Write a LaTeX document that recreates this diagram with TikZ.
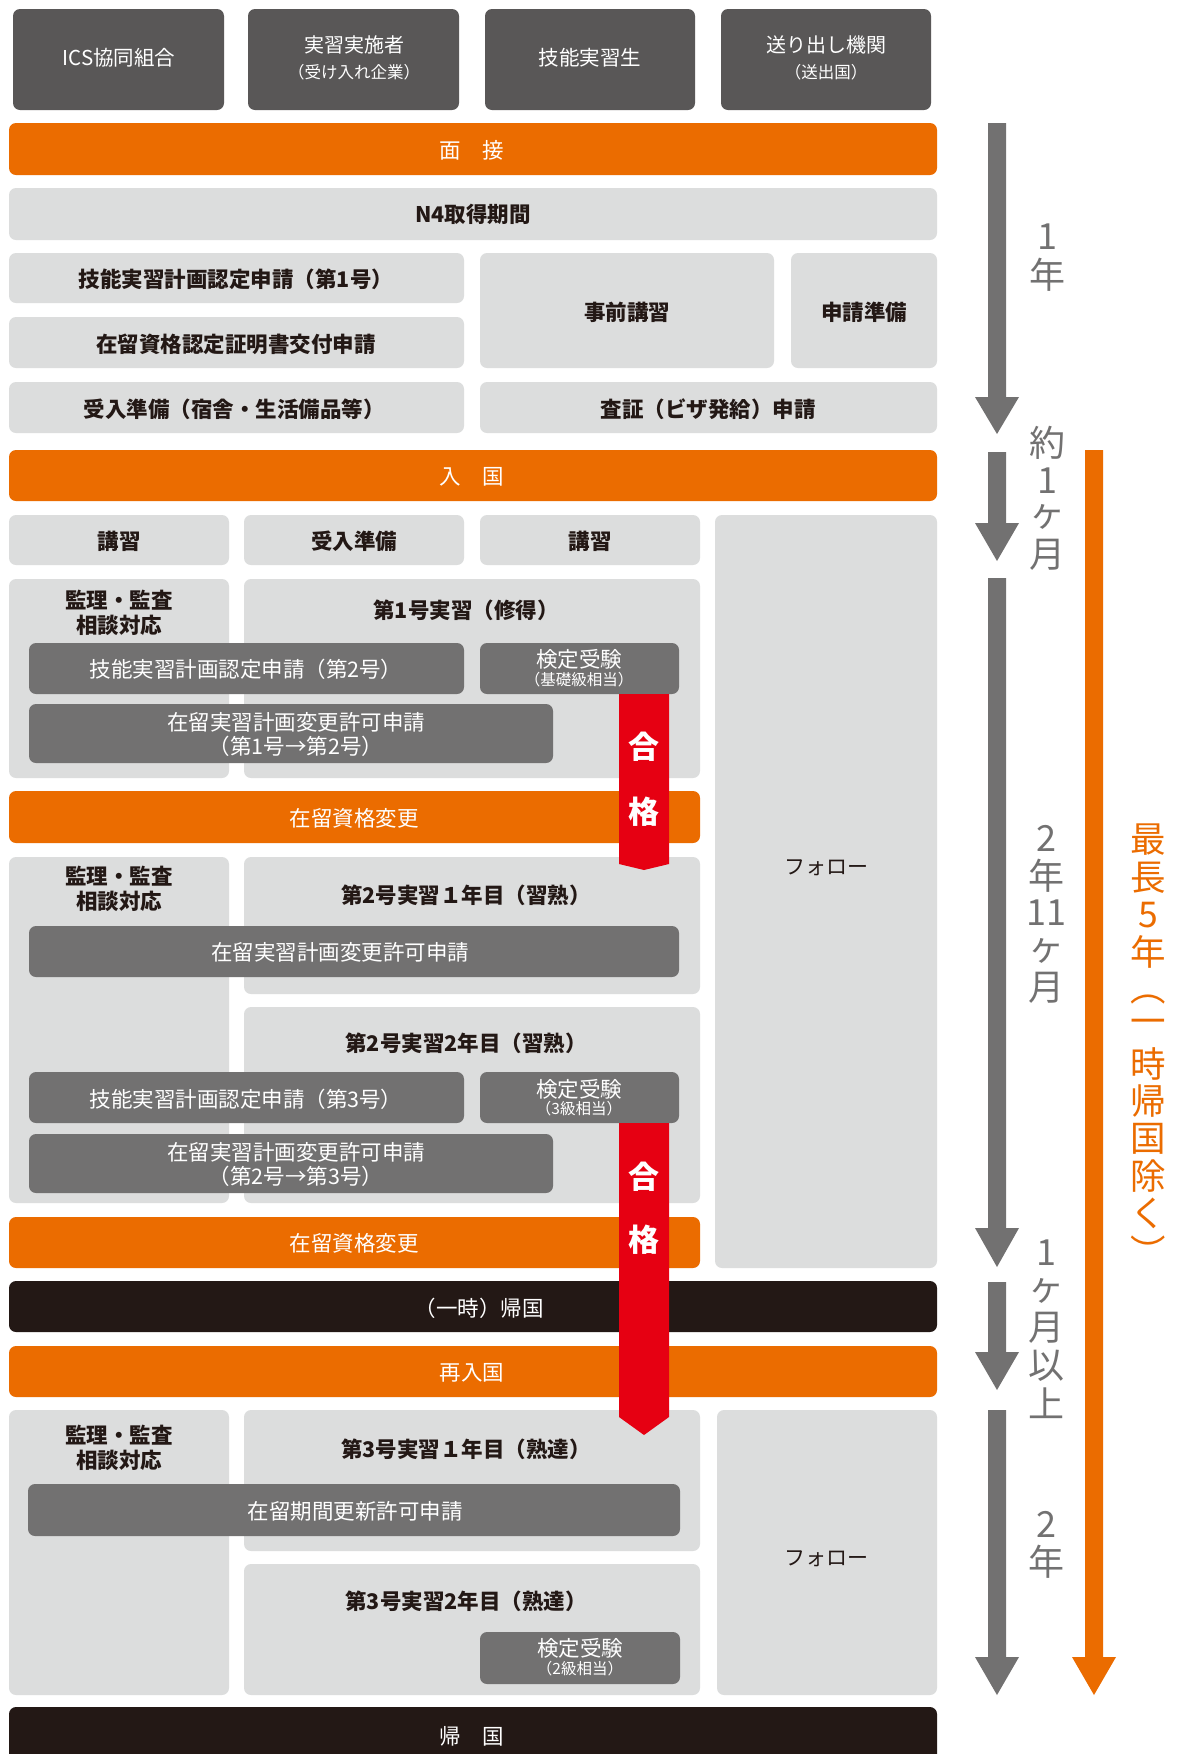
\documentclass[tikz,border=0pt]{standalone}
\usepackage{fontspec}
\setmainfont{Noto Sans CJK JP}
\definecolor{lgray}{HTML}{DCDDDD}
\definecolor{myorange}{HTML}{EB6C00}
\definecolor{mgray}{HTML}{727171}
\definecolor{dgray}{HTML}{595757}
\definecolor{kblack}{HTML}{231815}
\definecolor{myred}{HTML}{E60012}
\definecolor{tdark}{HTML}{231815}
\newcommand\bx[6]{\node[#2, anchor=north west, minimum width={(#5-#3)*1pt}, minimum height={(#6-#4)*1pt}] (#1) at (#3,#4) {};}
\newcommand\garrow[4]{\fill[mgray] (988,#2) -- (1006,#2) -- (1006,#3) -- (1019,#3) -- (997,#4) -- (975,#3) -- (988,#3) -- cycle;}
\begin{document}
\begin{tikzpicture}[x=1pt,y=-1pt,
  boxbase/.style={inner sep=0pt, outer sep=0pt, draw=none, rounded corners=7pt},
  lbox/.style={boxbase, fill=lgray},
  obar/.style={boxbase, fill=myorange},
  gbox/.style={boxbase, fill=mgray},
  dbox/.style={boxbase, fill=dgray},
  kbar/.style={boxbase, fill=kblack},
  dtxt/.style={text=tdark, font=\fontsize{21.5}{25}\selectfont\bfseries, inner sep=0pt, align=center},
  wtxt/.style={text=white, font=\fontsize{21.5}{24}\selectfont, inner sep=0pt, align=center},
  wsmall/.style={text=white, font=\fontsize{15.5}{18}\selectfont, inner sep=0pt},
  ftxt/.style={text=tdark, font=\fontsize{21}{24}\selectfont, inner sep=0pt},
  durtxt/.style={text=mgray, font=\fontsize{36}{40}\selectfont, inner sep=0pt},
  otxt/.style={text=myorange, font=\fontsize{35.5}{40}\selectfont, inner sep=0pt},
  passtxt/.style={text=white, font=\fontsize{31}{34}\selectfont\bfseries, inner sep=0pt}
]
\useasboundingbox (0,0) rectangle (1176,1754);
\fill[white] (0,0) rectangle (1176,1754);

% top header boxes
\bx{h1}{dbox}{13}{9}{224}{110}
\bx{h2}{dbox}{248}{9}{459}{110}
\bx{h3}{dbox}{485}{9}{695}{110}
\bx{h4}{dbox}{721}{9}{931}{110}
\node[wtxt, font=\fontsize{20.5}{24}\selectfont] (h1t) at (119,58) {ICS協同組合};
\node[wtxt, font=\fontsize{20}{24}\selectfont] (h2t) at (354,45) {実習実施者};
\node[wtxt, font=\fontsize{16.5}{18}\selectfont] (h2s) at (354,72) {（受け入れ企業）};
\node[wtxt, font=\fontsize{20.5}{24}\selectfont] (h3t) at (590,58) {技能実習生};
\node[wtxt, font=\fontsize{20}{24}\selectfont] (h4t) at (826,45) {送り出し機関};
\node[wtxt, font=\fontsize{16.5}{18}\selectfont] (h4s) at (826,72) {（送出国）};

% phase 1
\bx{mensetsu}{obar}{9}{123}{937}{175}
\node[wtxt] (mensetsut) at (472,150) {面　接};
\bx{n4}{lbox}{9}{188}{937}{240}
\node[dtxt] (n4t) at (473,214) {N4取得期間};
\bx{nintei1}{lbox}{9}{253}{464}{303}
\node[dtxt] (nintei1t) at (236,279) {技能実習計画認定申請（第1号）};
\bx{zairyu}{lbox}{9}{317}{464}{368}
\node[dtxt] (zairyut) at (236,344) {在留資格認定証明書交付申請};
\bx{jizen}{lbox}{480}{253}{774}{368}
\node[dtxt] (jizent) at (627,312) {事前講習};
\bx{shinsei}{lbox}{791}{253}{937}{368}
\node[dtxt] (shinseit) at (864,312) {申請準備};
\bx{ukeire}{lbox}{9}{382}{464}{433}
\node[dtxt] (ukeiret) at (234,409) {受入準備（宿舎・生活備品等）};
\bx{sasho}{lbox}{480}{382}{937}{433}
\node[dtxt] (sashot) at (708,409) {査証（ビザ発給）申請};
\bx{nyukoku}{obar}{9}{450}{937}{501}
\node[wtxt] (nyukokut) at (472,477) {入　国};

% phase 2
\bx{koshu1}{lbox}{9}{515}{229}{565}
\node[dtxt] (koshu1t) at (119,541) {講習};
\bx{ukeire2}{lbox}{244}{515}{464}{565}
\node[dtxt] (ukeire2t) at (354,541) {受入準備};
\bx{koshu2}{lbox}{480}{515}{700}{565}
\node[dtxt] (koshu2t) at (590,541) {講習};
\bx{follow1}{lbox}{715}{515}{937}{1268}
\node[ftxt] (follow1t) at (826,868) {フォロー};

\bx{kanri1}{lbox}{9}{579}{229}{778}
\node[dtxt] (kanri1t) at (119,613) {監理・監査\\相談対応};
\bx{jisshu1}{lbox}{244}{579}{700}{778}
\node[dtxt] (jisshu1t) at (466,610) {第1号実習（修得）};
\bx{nintei2}{gbox}{29}{643}{464}{694}
\node[wtxt] (nintei2t) at (246,669) {技能実習計画認定申請（第2号）};
\bx{kentei1}{gbox}{480}{643}{679}{694}
\node[wtxt] (kentei1t) at (579,659) {検定受験};
\node[wsmall] (kentei1s) at (579,680) {（基礎級相当）};
\bx{henko1}{gbox}{29}{704}{553}{763}
\node[wtxt] (henko1t) at (296,734) {在留実習計画変更許可申請\\（第1号→第2号）};
\bx{shikaku1}{obar}{9}{791}{700}{843}
\node[wtxt] (shikaku1t) at (354,818) {在留資格変更};

\bx{kanri2}{lbox}{9}{857}{229}{1203}
\node[dtxt] (kanri2t) at (119,889) {監理・監査\\相談対応};
\bx{jisshu2a}{lbox}{244}{857}{700}{994}
\node[dtxt] (jisshu2at) at (466,895) {第2号実習１年目（習熟）};
\bx{henko2}{gbox}{29}{926}{679}{977}
\node[wtxt] (henko2t) at (340,952) {在留実習計画変更許可申請};
\bx{jisshu2b}{lbox}{244}{1007}{700}{1203}
\node[dtxt] (jisshu2bt) at (466,1043) {第2号実習2年目（習熟）};
\bx{nintei3}{gbox}{29}{1072}{464}{1123}
\node[wtxt] (nintei3t) at (246,1099) {技能実習計画認定申請（第3号）};
\bx{kentei2}{gbox}{480}{1072}{679}{1123}
\node[wtxt] (kentei2t) at (579,1089) {検定受験};
\node[wsmall] (kentei2s) at (579,1109) {（3級相当）};
\bx{henko3}{gbox}{29}{1134}{553}{1193}
\node[wtxt] (henko3t) at (296,1164) {在留実習計画変更許可申請\\（第2号→第3号）};
\bx{shikaku2}{obar}{9}{1217}{700}{1268}
\node[wtxt] (shikaku2t) at (354,1243) {在留資格変更};

\bx{ichiji}{kbar}{9}{1281}{937}{1332}
\node[wtxt] (ichijit) at (479,1308) {（一時）帰国};
\bx{sainyu}{obar}{9}{1346}{937}{1397}
\node[wtxt] (sainyut) at (472,1373) {再入国};

% phase 3
\bx{kanri3}{lbox}{9}{1410}{229}{1695}
\node[dtxt] (kanri3t) at (119,1448) {監理・監査\\相談対応};
\bx{jisshu3a}{lbox}{244}{1410}{700}{1551}
\node[dtxt] (jisshu3at) at (466,1449) {第3号実習１年目（熟達）};
\bx{koshin}{gbox}{28}{1484}{680}{1536}
\node[wtxt] (koshint) at (355,1511) {在留期間更新許可申請};
\bx{jisshu3b}{lbox}{244}{1564}{700}{1695}
\node[dtxt] (jisshu3bt) at (466,1601) {第3号実習2年目（熟達）};
\bx{kentei3}{gbox}{480}{1632}{680}{1684}
\node[wtxt] (kentei3t) at (580,1648) {検定受験};
\node[wsmall] (kentei3s) at (580,1669) {（2級相当）};
\bx{follow2}{lbox}{717}{1410}{937}{1695}
\node[ftxt] (follow2t) at (826,1559) {フォロー};

\bx{kikoku}{kbar}{9}{1707}{937}{1775}
\node[wtxt] (kikokut) at (472,1736) {帰　国};

% red pass arrows
\fill[myred] (619,694) -- (669,694) -- (669,864) -- (644,870) -- (619,864) -- cycle;
\node[passtxt] (pass1a) at (644,747) {合};
\node[passtxt] (pass1b) at (644,812) {格};
\fill[myred] (619,1123) -- (669,1123) -- (669,1417) -- (644,1435) -- (619,1417) -- cycle;
\node[passtxt] (pass2a) at (644,1177) {合};
\node[passtxt] (pass2b) at (644,1240) {格};

% timeline arrows
\garrow{a1}{123}{397}{434}
\garrow{a2}{452}{523}{561}
\garrow{a3}{578}{1228}{1267}
\garrow{a4}{1282}{1352}{1390}
\garrow{a5}{1410}{1657}{1695}
\fill[myorange] (1085,450) -- (1103,450) -- (1103,1657) -- (1116,1657) -- (1094,1695) -- (1072,1657) -- (1085,1657) -- cycle;

% duration labels
\foreach \c [count=\i] in {1,年} \node[durtxt] (d1-\i) at (1047,{237+38*(\i-1)}) {\c};
\foreach \c [count=\i] in {約,1,ヶ,月} \node[durtxt] (d2-\i) at (1047,{443+37.2*(\i-1)}) {\c};
\foreach \c [count=\i] in {2,年,11,ヶ,月} \node[durtxt] (d3-\i) at (1046,{838+37.5*(\i-1)}) {\c};
\foreach \c [count=\i] in {1,ヶ,月,以,上} \node[durtxt] (d4-\i) at (1046,{1253+37.5*(\i-1)}) {\c};
\foreach \c [count=\i] in {2,年} \node[durtxt] (d5-\i) at (1046,{1524+38*(\i-1)}) {\c};
\foreach \c [count=\i] in {最,長,5,年} \node[otxt] (mx-\i) at (1148,{840+37.3*(\i-1)}) {\c};
\node[otxt] (mx-5) at (1148,1000) {︵};
\foreach \c [count=\i from 6] in {一,時,帰,国,除,く,︶} \node[otxt] (mx-\i) at (1148,{840+37.3*(\i-1)}) {\c};
\end{tikzpicture}
\end{document}
